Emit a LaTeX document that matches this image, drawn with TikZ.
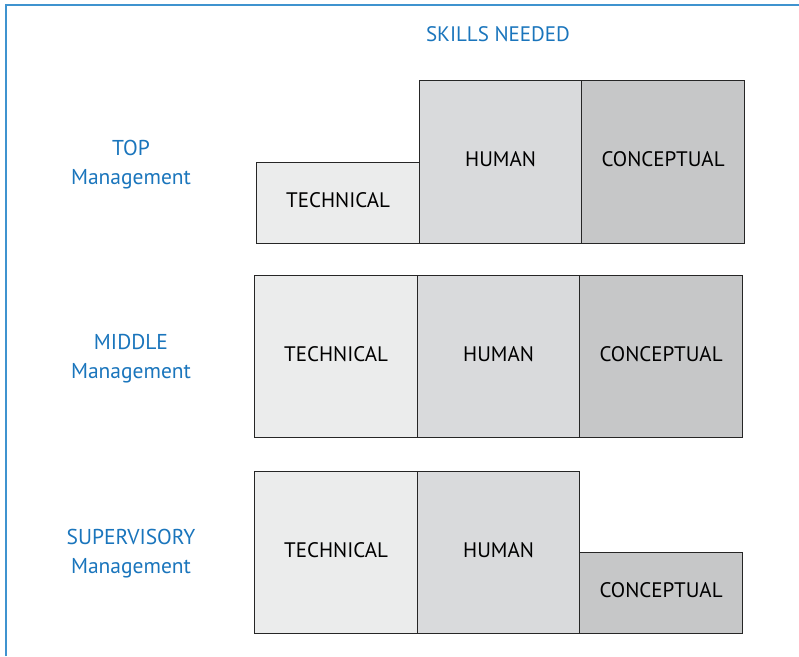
\documentclass[tikz,border=0pt]{standalone}
\usepackage{fontspec}
\setmainfont{PT Sans}
\definecolor{frameblue}{HTML}{3F93CF}
\definecolor{labelblue}{HTML}{1A75BC}
\definecolor{techfill}{HTML}{EBECEC}
\definecolor{humfill}{HTML}{D9DADC}
\definecolor{concfill}{HTML}{C6C7C8}
\begin{document}
\begin{tikzpicture}[x=1pt,y=-1pt,
  skillbox/.style={draw=black!85,line width=1.1pt,inner sep=0pt,anchor=north west,
    text height=14.8pt,text depth=5pt,font=\fontsize{21}{25}\selectfont},
  tech/.style={skillbox,fill=techfill},
  hum/.style={skillbox,fill=humfill},
  conc/.style={skillbox,fill=concfill},
  lvl/.style={text=labelblue,align=center,font=\fontsize{21.5}{29}\selectfont}]
\useasboundingbox (0,0) rectangle (799,656);
\draw[frameblue,line width=1.6pt] (6,656) -- (6,5) -- (799,5);
\node[text=labelblue,font=\fontsize{21}{25}\selectfont] (title) at (498,34) {SKILLS NEEDED};
% top row
\node[tech,minimum width=163pt,minimum height=81pt] (t1) at (256,162) {TECHNICAL};
\node[hum,minimum width=162pt,minimum height=163pt] (t2) at (419,80) {HUMAN};
\node[conc,minimum width=163pt,minimum height=163pt] (t3) at (581,80) {CONCEPTUAL};
% middle row
\node[tech,minimum width=163pt,minimum height=162pt] (m1) at (254,275) {TECHNICAL};
\node[hum,minimum width=162pt,minimum height=162pt] (m2) at (417,275) {HUMAN};
\node[conc,minimum width=163pt,minimum height=162pt] (m3) at (579,275) {CONCEPTUAL};
% bottom row
\node[tech,minimum width=163pt,minimum height=162pt] (b1) at (254,471) {TECHNICAL};
\node[hum,minimum width=162pt,minimum height=162pt] (b2) at (417,471) {HUMAN};
\node[conc,minimum width=163pt,minimum height=81pt] (b3) at (579,552) {CONCEPTUAL};
% level labels
\node[lvl] (top) at (131,165) {TOP\\Management};
\node[lvl] (mid) at (131,359) {MIDDLE\\Management};
\node[lvl] (sup) at (131,554) {SUPERVISORY\\Management};
\end{tikzpicture}
\end{document}
